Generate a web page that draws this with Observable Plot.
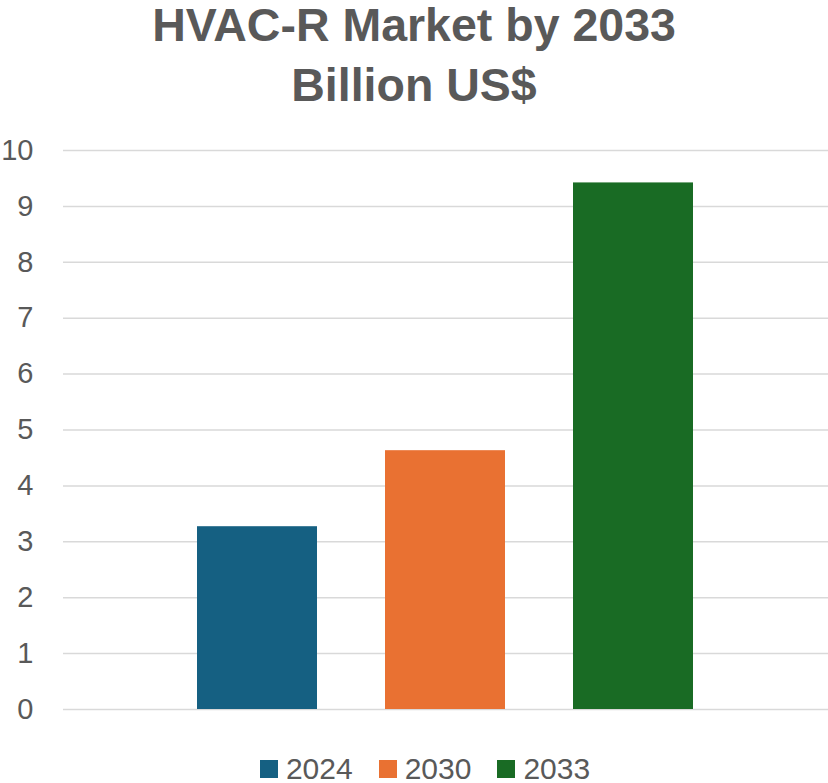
<!DOCTYPE html>
<html>
<head>
<meta charset="utf-8">
<script src="https://cdn.jsdelivr.net/npm/d3@7"></script>
<script src="https://cdn.jsdelivr.net/npm/@observablehq/plot@0.6"></script>
<style>
  html, body { margin: 0; padding: 0; background: #fff; }
  body { width: 828px; height: 783px; overflow: hidden; font-family: "Liberation Sans", Arial, sans-serif; }
  #title { text-align: center; color: #595959; font-weight: bold; font-size: 46.5px; line-height: 60px; margin-top: -5px; height: 120px; }
  #chart svg { display: block; }
  #legend { margin-top: 20px; }
  #legend > div { font-family: "Liberation Sans", Arial, sans-serif !important; font-size: 30px !important; color: #595959 !important; display: flex !important; justify-content: center !important; margin: 0 !important; min-height: 0 !important; line-height: 30px !important; padding-left: 22px; }
  #legend > div > span { margin-right: 26px !important; display: inline-flex !important; align-items: center !important; }
  #legend > div > span:last-child { margin-right: 0 !important; }
  #legend > div > span > svg { margin-right: 8px !important; }
</style>
</head>
<body>
<div id="title">HVAC-R Market by 2033<br>Billion US$</div>
<div id="chart"></div>
<div id="legend"></div>
<script>
const years = ["2024", "2030", "2033"];
const values = [3.27, 4.63, 9.42];
const colors = ["#156082", "#E97132", "#196B24"];
const yTicks = [0, 1, 2, 3, 4, 5, 6, 7, 8, 9, 10];

const data = years.map((y, i) => ({year: y, value: values[i]}));

const chart = Plot.plot({
  width: 828,
  height: 619,
  marginTop: 35,
  marginBottom: 25,
  marginLeft: 63,
  marginRight: 0,
  style: {fontFamily: "'Liberation Sans', Arial, sans-serif", fontSize: "29px", color: "#595959", background: "#fff"},
  x: {domain: years, paddingInner: 0.36, paddingOuter: 0.704, axis: null},
  y: {domain: [0, 10], ticks: yTicks, label: null},
  color: {domain: years, range: colors},
  marks: [
    Plot.gridY(yTicks, {stroke: "#d9d9d9", strokeOpacity: 1, strokeWidth: 1.5}),
    Plot.axisY(yTicks, {tickSize: 0, tickPadding: 30, tickFormat: d3.format("d"), label: null, fill: "#595959", fontSize: 29}),
    Plot.barY(data, {x: "year", y: "value", fill: "year"})
  ]
});
document.getElementById("chart").appendChild(chart);

const legend = Plot.legend({
  color: {domain: years, range: colors},
  swatchSize: 18
});
document.getElementById("legend").appendChild(legend);
</script>
</body>
</html>
